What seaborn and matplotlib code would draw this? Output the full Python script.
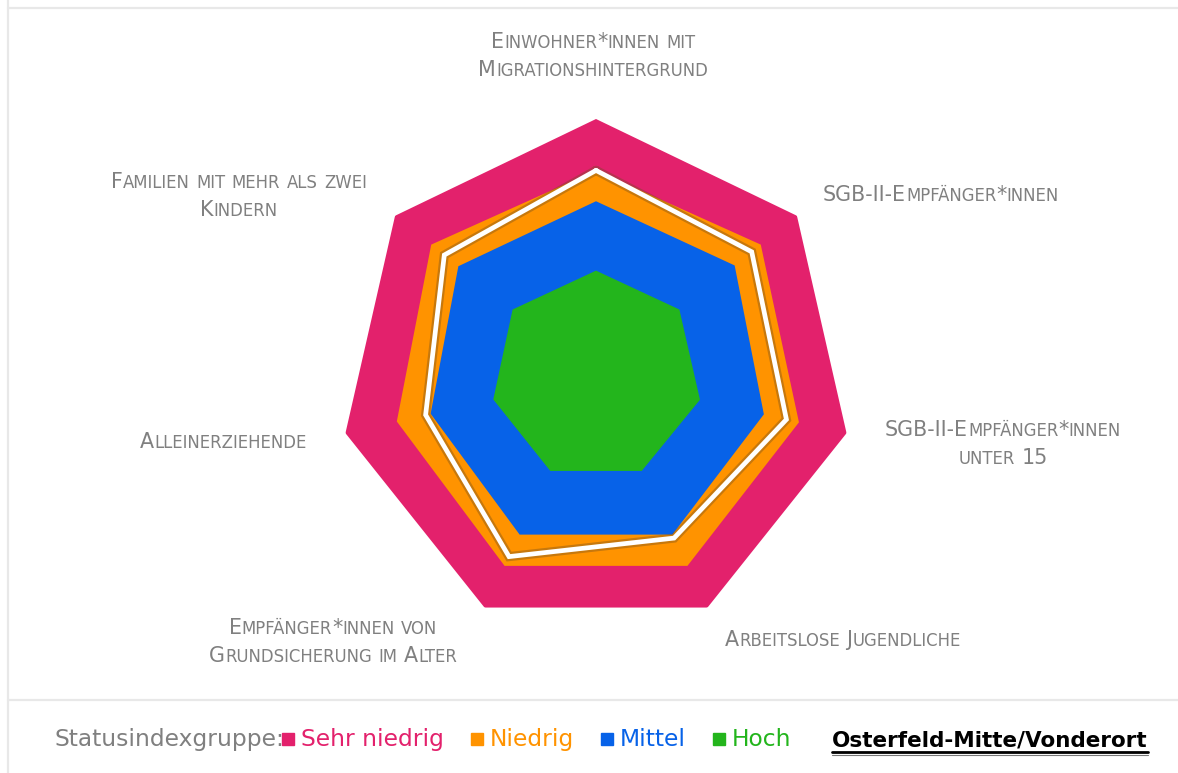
import numpy as np
import pandas as pd
import seaborn as sns
import matplotlib
matplotlib.use("Agg")
import matplotlib.pyplot as plt
import matplotlib.patheffects as pe
from matplotlib.lines import Line2D
from matplotlib.patches import Rectangle
from matplotlib.transforms import IdentityTransform

# ---------------- data ----------------
categories = [
    "Einwohner*innen mit\nMigrationshintergrund",
    "SGB-II-Empfänger*innen",
    "SGB-II-Empfänger*innen\nunter 15",
    "Arbeitslose Jugendliche",
    "Empfänger*innen von\nGrundsicherung im Alter",
    "Alleinerziehende",
    "Familien mit mehr als zwei\nKindern",
]
group_names = ["Sehr niedrig", "Niedrig", "Mittel", "Hoch"]
group_colors = ["#E3216C", "#FF9300", "#0762E8", "#23B51C"]
sehr_niedrig = [100, 100, 100, 100, 100, 100, 100]
niedrig = [80, 82, 81, 82, 82, 79.5, 82]
mittel = [68, 69, 67, 68.5, 68.5, 66, 68.5]
hoch = [41, 41.5, 41.5, 41, 41, 41, 41.5]
district_name = "Osterfeld-Mitte/Vonderort"
osterfeld = [80, 77.5, 76, 70, 78, 68, 75.5]
legend_title = "Statusindexgruppe:"

groups = [sehr_niedrig, niedrig, mittel, hoch]

# ---------------- figure ----------------
W, H = 1178, 773
sns.set_theme(style="white")
FONT = ["DejaVu Sans"]
plt.rcParams["font.family"] = FONT

fig = plt.figure(figsize=(W / 100, H / 100), dpi=100, facecolor="white")
renderer = fig.canvas.get_renderer()

cx, cy, R = 596, 376, 257
ax = fig.add_axes([(cx - R) / W, (H - cy - R) / H, 2 * R / W, 2 * R / H],
                  projection="polar")
ax.set_theta_zero_location("N")
ax.set_theta_direction(-1)

n = len(categories)
angles = np.linspace(0, 2 * np.pi, n, endpoint=False)
ang_closed = np.concatenate([angles, [2 * np.pi]])

for vals, col in zip(groups, group_colors):
    v = np.concatenate([vals, vals[:1]])
    ax.fill(ang_closed, v, color=col, lw=0, zorder=2)

df = pd.DataFrame({"theta": ang_closed,
                   "r": np.concatenate([osterfeld, osterfeld[:1]])})
sns.lineplot(data=df, x="theta", y="r", sort=False, estimator=None, ax=ax,
             color="white", lw=3.4, zorder=5, solid_joinstyle="miter",
             path_effects=[pe.Stroke(linewidth=6.6, foreground="#6e4c22", alpha=0.38),
                           pe.Normal()])
ax.set_ylim(0, 100)
ax.set_axis_off()

# ---------------- helpers ----------------
def measure(s, size, weight="normal"):
    t = fig.text(0, 0, s, fontsize=size, fontweight=weight, family=FONT,
                 transform=IdentityTransform())
    w = t.get_window_extent(renderer).width
    t.remove()
    return w


def smallcaps_pieces(line, big, small):
    words = line.split(" ")
    out = []
    for w in words:
        runs = []
        cur, cur_low = "", None
        for ch in w:
            low = ch.islower()
            if cur_low is None or low == cur_low:
                cur += ch
            else:
                runs.append((cur, cur_low))
                cur = ch
            cur_low = low
        if cur:
            runs.append((cur, cur_low))
        out.append([(r.upper() if lo else r, small if lo else big) for r, lo in runs])
    return out


def line_width(line, big, small):
    sp = measure("M M", big) - measure("MM", big)
    words = smallcaps_pieces(line, big, small)
    total = 0
    for wd in words:
        for s, sz in wd:
            total += measure(s, sz)
    total += sp * (len(words) - 1)
    return total


def draw_smallcaps(line, x, base_y, ha, big, small, color):
    sp = measure("M M", big) - measure("MM", big)
    words = smallcaps_pieces(line, big, small)
    total = line_width(line, big, small)
    if ha == "center":
        xs = x - total / 2
    elif ha == "right":
        xs = x - total
    else:
        xs = x
    for i, wd in enumerate(words):
        for s, sz in wd:
            fig.text(xs, H - base_y, s, fontsize=sz, color=color, ha="left",
                     va="baseline", family=FONT, transform=IdentityTransform())
            xs += measure(s, sz)
        xs += sp


# ---------------- axis labels ----------------
label_color = "#808080"
BIG0, SMALL0 = 12.5, 10.0
ref_longest = 257
longest = max(line_width(l, BIG0, SMALL0) for c in categories for l in c.split("\n"))
k = ref_longest / longest
BIG, SMALL = BIG0 * k, SMALL0 * k

label_pos = [  # (x, first baseline, ha)
    (593, 48, "center"),
    (823, 201, "left"),
    (1003, 436, "center"),
    (843, 646, "center"),
    (333, 634, "center"),
    (223, 448, "center"),
    (239, 188, "center"),
]
for cat, (x, by, ha) in zip(categories, label_pos):
    for j, l in enumerate(cat.split("\n")):
        draw_smallcaps(l, x, by + j * 27.5, ha, BIG, SMALL, label_color)

# ---------------- frame ----------------
frame_col = "#e8e8e8"
for xs_, ys_ in [((8, 8), (0, H)), ((8, W), (8, 8)), ((8, W), (700, 700))]:
    fig.add_artist(Line2D(xs_, [H - y for y in ys_], color=frame_col, lw=1.6,
                          transform=IdentityTransform()))

# ---------------- legend ----------------
leg_base = 746
lsize = 16 * 143 / measure("Sehr niedrig", 16)
x = 55
fig.text(x, H - leg_base, legend_title, fontsize=lsize, color="#808080",
         va="baseline", ha="left", family=FONT, transform=IdentityTransform())
x += measure(legend_title, lsize) - 3
sq = 12
for name, col in zip(group_names, group_colors):
    fig.add_artist(Rectangle((x, H - leg_base + 1), sq, sq, color=col,
                             transform=IdentityTransform(), zorder=5))
    x += sq + 7
    fig.text(x, H - leg_base, name, fontsize=lsize, color=col, va="baseline",
             ha="left", family=FONT, transform=IdentityTransform())
    x += measure(name, lsize) + 27

bsize = 16 * 316 / measure(district_name, 16, "bold")
bx = 832
fig.text(bx, H - leg_base, district_name, fontsize=bsize, color="black",
         fontweight="bold", va="baseline", ha="left", family=FONT,
         transform=IdentityTransform())
bw = measure(district_name, bsize, "bold")
fig.add_artist(Line2D((bx, bx + bw), (H - 752, H - 752), color="black", lw=2.0,
                      transform=IdentityTransform()))
fig.add_artist(Line2D((bx, bx + bw), (H - 754.5, H - 754.5), color="#777777",
                      lw=0.8, transform=IdentityTransform()))

fig.savefig("out.png", dpi=100, facecolor="white")
